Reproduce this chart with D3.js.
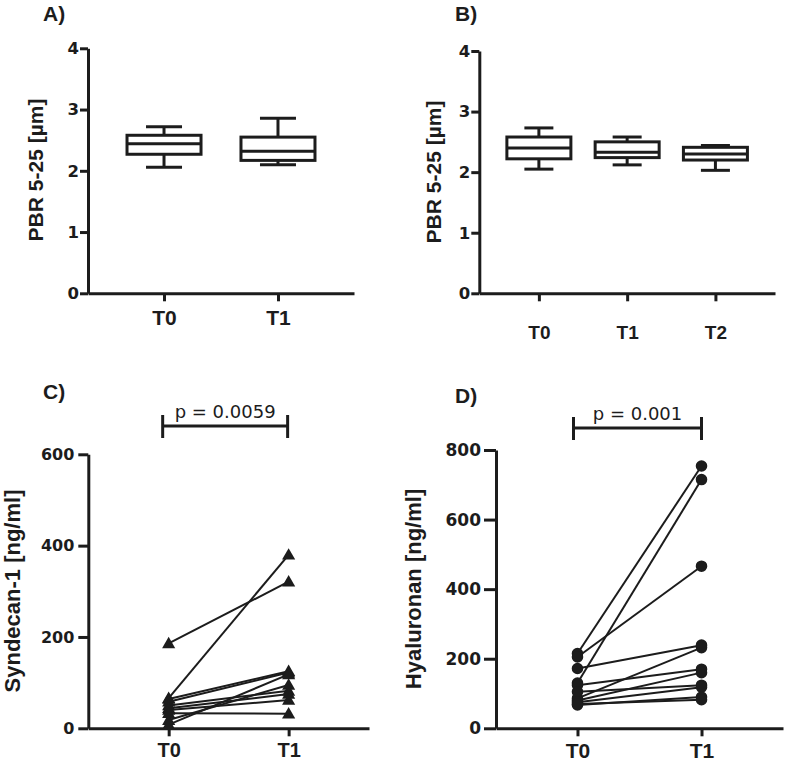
<!DOCTYPE html>
<html><head><meta charset="utf-8">
<script src="https://cdn.jsdelivr.net/npm/d3@7/dist/d3.min.js"></script>
<style>
body{margin:0;background:#fff;}
svg{display:block;font-family:"Liberation Sans",Arial,sans-serif;}
</style></head>
<body><svg id="c" width="787" height="769"></svg>
<script>
// ---------- data ----------
const catsA = ["T0","T1"];
const aMin = [2.06, 2.10];
const aQ1  = [2.27, 2.17];
const aMed = [2.44, 2.32];
const aQ3  = [2.58, 2.55];
const aMax = [2.72, 2.86];

const catsB = ["T0","T1","T2"];
const bMin = [2.05, 2.12, 2.03];
const bQ1  = [2.22, 2.24, 2.20];
const bMed = [2.40, 2.33, 2.30];
const bQ3  = [2.58, 2.50, 2.41];
const bMax = [2.73, 2.58, 2.44];

const ticksPBR = [0,1,2,3,4];

const catsC = ["T0","T1"];
const syndT0 = [186, 66, 64, 58, 8, 18, 50, 44, 40, 33];
const syndT1 = [321, 380, 125, 122, 118, 95, 82, 75, 62, 32];
const ticksC = [0,200,400,600];
const pC = "p = 0.0059";

const catsD = ["T0","T1"];
const hyalT0 = [215, 130, 205, 172, 86, 124, 80, 105, 75, 67, 70];
const hyalT1 = [754, 715, 466, 239, 232, 170, 160, 124, 118, 90, 82];
const ticksD = [0,200,400,600,800];
const pD = "p = 0.001";

// ---------- drawing ----------
const svg = d3.select("#c");
const INK = "#1c1c1c";
const LIB = "'Liberation Sans', Arial, sans-serif";
const DJV = "'DejaVu Sans', sans-serif";

function axes(g, x, y, ticks, xLabelDy, yFont, xFont, yTick, yPad){
  const ya = g.append("g").attr("transform",`translate(${x.range()[0]},0)`)
    .call(d3.axisLeft(y).tickValues(ticks).tickFormat(d3.format("d")).tickSize(yTick).tickSizeOuter(0).tickPadding(yPad));
  const xa = g.append("g").attr("transform",`translate(0,${y.range()[0]})`)
    .call(d3.axisBottom(x).tickSize(8).tickSizeOuter(0).tickPadding(xLabelDy));
  [ya,xa].forEach(a=>{
    a.attr("font-family",null).attr("font-size",null);
    a.select(".domain").attr("stroke",INK).attr("stroke-width",3);
    a.selectAll(".tick line").attr("stroke",INK).attr("stroke-width",3);
    a.selectAll("text").attr("fill",INK).attr("font-weight","bold");
  });
  ya.selectAll("text").attr("font-size",yFont).attr("font-family",DJV);
  xa.selectAll("text").attr("font-size",xFont).attr("font-family",LIB);
  return {ya,xa};
}

function ylabel(text, cx, cy, size){
  svg.append("text").attr("transform",`translate(${cx},${cy}) rotate(-90)`)
    .attr("text-anchor","middle").attr("dominant-baseline","central")
    .attr("font-family",LIB)
    .attr("font-weight","bold").attr("font-size",size).attr("fill",INK).text(text);
}
function panelLabel(text,x,y){
  svg.append("text").attr("x",x).attr("y",y).attr("font-weight","bold")
    .attr("font-family",LIB)
    .attr("font-size",21).attr("fill",INK).text(text);
}

function boxes(g, x, y, cats, mn, q1, md, q3, mx, bw, cw){
  cats.forEach((c,i)=>{
    const cx = x(c);
    const line=(x1,y1,x2,y2)=>g.append("line").attr("x1",x1).attr("y1",y1).attr("x2",x2).attr("y2",y2)
      .attr("stroke",INK).attr("stroke-width",3);
    line(cx, y(mx[i]), cx, y(q3[i]));
    line(cx, y(q1[i]), cx, y(mn[i]));
    line(cx-cw/2, y(mx[i]), cx+cw/2, y(mx[i]));
    line(cx-cw/2, y(mn[i]), cx+cw/2, y(mn[i]));
    g.append("rect").attr("x",cx-bw/2).attr("y",y(q3[i])).attr("width",bw)
      .attr("height",y(q1[i])-y(q3[i])).attr("fill","#fff").attr("stroke",INK).attr("stroke-width",3);
    line(cx-bw/2, y(md[i]), cx+bw/2, y(md[i]));
  });
}

// Panel A
{
  const x = d3.scalePoint().domain(catsA).range([88,354]).padding(0.667);
  const y = d3.scaleLinear().domain([0,4]).range([293.3,48.3]);
  const g = svg.append("g");
  axes(g,x,y,ticksPBR,9,16.5,21,8,1);
  boxes(g,x,y,catsA,aMin,aQ1,aMed,aQ3,aMax,74,36);
  ylabel("PBR 5-25 [µm]",35,170,21);
  panelLabel("A)",43,21);
}
// Panel B
{
  const x = d3.scalePoint().domain(catsB).range([479.3,775]).padding(0.675);
  const y = d3.scaleLinear().domain([0,4]).range([293.3,51]);
  const g = svg.append("g");
  axes(g,x,y,ticksPBR,24,16.5,19,8,1);
  boxes(g,x,y,catsB,bMin,bQ1,bMed,bQ3,bMax,64,29);
  ylabel("PBR 5-25 [µm]",433,172,21);
  panelLabel("B)",455,21);
}

function paired(g,x,y,t0,t1,shape){
  t0.forEach((v,i)=>{
    g.append("line").attr("x1",x("T0")).attr("y1",y(v)).attr("x2",x("T1")).attr("y2",y(t1[i]))
      .attr("stroke",INK).attr("stroke-width",2);
  });
  const sym = shape==="tri" ? d3.symbol().type(d3.symbolTriangle).size(75)
                            : d3.symbol().type(d3.symbolCircle).size(105);
  const pts = [];
  t0.forEach((v,i)=>{pts.push(["T0",v]);pts.push(["T1",t1[i]]);});
  g.selectAll(null).data(pts).join("path")
    .attr("d",sym)
    .attr("transform",d=>`translate(${x(d[0])},${y(d[1])+(shape==="tri"?1:0)})`)
    .attr("fill",INK);
}
function bracket(g,x1,x2,yb,label){
  const l=(a,b,c,d)=>g.append("line").attr("x1",a).attr("y1",b).attr("x2",c).attr("y2",d)
    .attr("stroke",INK).attr("stroke-width",3);
  l(x1,yb,x2,yb); l(x1,yb-11,x1,yb+12); l(x2,yb-11,x2,yb+12);
  g.append("text").attr("x",(x1+x2)/2).attr("y",yb-8).attr("text-anchor","middle")
    .attr("font-family",DJV)
    .attr("font-size",18).attr("fill",INK).text(label);
}
// Panel C
{
  const x = d3.scalePoint().domain(catsC).range([88.3,369]).padding(0.67);
  const y = d3.scaleLinear().domain([0,600]).range([728.3,454.3]);
  const g = svg.append("g");
  axes(g,x,y,ticksC,7,16,20,10,4);
  paired(g,x,y,syndT0,syndT1,"tri");
  bracket(g,x("T0")-6,x("T1")-1,426,pC);
  ylabel("Syndecan-1 [ng/ml]",12,591,22);
  panelLabel("C)",43,399);
}
// Panel D
{
  const x = d3.scalePoint().domain(catsD).range([496,783]).padding(0.657);
  const y = d3.scaleLinear().domain([0,800]).range([728.3,450]);
  const g = svg.append("g");
  axes(g,x,y,ticksD,7,17,21,12,3);
  paired(g,x,y,hyalT0,hyalT1,"circ");
  bracket(g,x("T0")-4,x("T1"),428,pD);
  ylabel("Hyaluronan [ng/ml]",413,589,22);
  panelLabel("D)",455,403);
}
</script></body></html>
